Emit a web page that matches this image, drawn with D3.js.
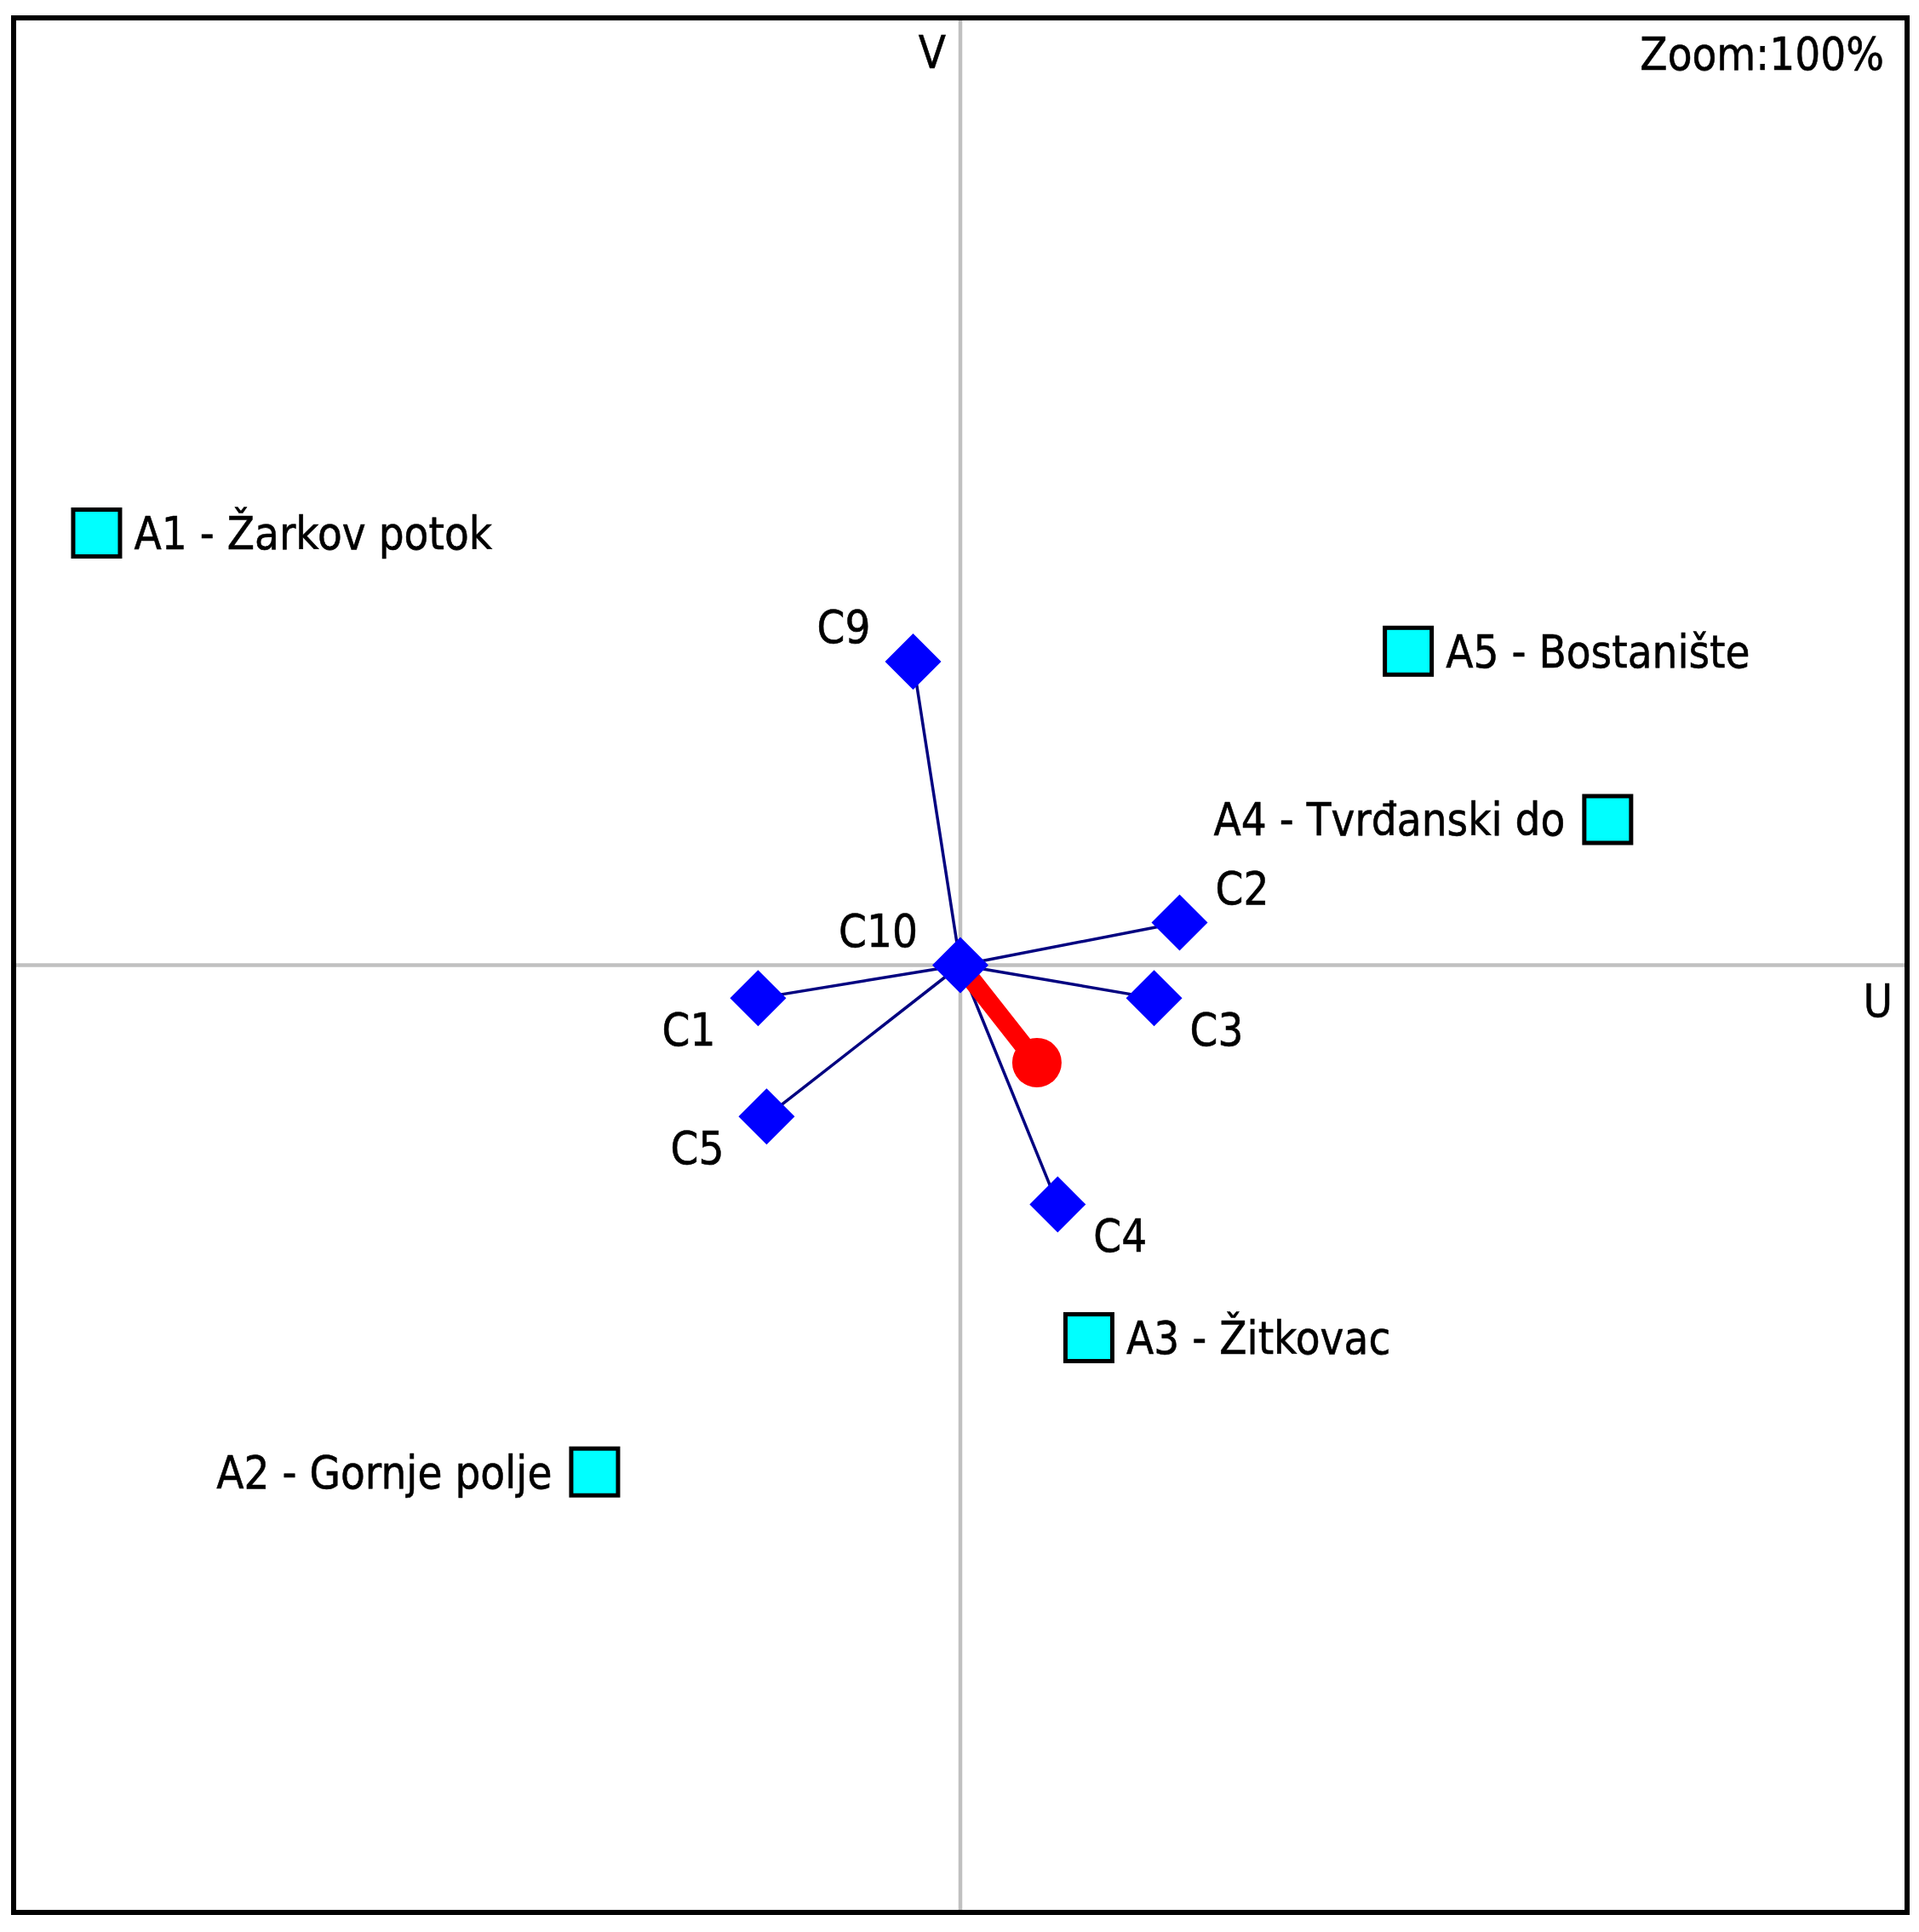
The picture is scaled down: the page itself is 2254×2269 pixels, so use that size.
<!DOCTYPE html>
<html>
<head>
<meta charset="utf-8">
<script src="https://cdn.jsdelivr.net/npm/d3@7"></script>
<style>
  html, body { margin: 0; padding: 0; background: #fff; }
  svg { display: block; }
</style>
</head>
<body>
<svg id="chart" width="2254" height="2269"></svg>
<script>
// ---- data (biplot coordinates, U horizontal / V vertical) ----
const siteNames = ["A1 - Žarkov potok", "A2 - Gornje polje", "A3 - Žitkovac", "A4 - Tvrđanski do", "A5 - Bostanište"];
const siteU = [-0.914, -0.387, 0.136, 0.685, 0.474];
const siteV = [0.457, -0.536, -0.394, 0.154, 0.332];
const siteLabelSide = ["right", "left", "right", "left", "right"];

const critNames = ["C1", "C2", "C3", "C4", "C5", "C9", "C10"];
const critU = [-0.214, 0.232, 0.205, 0.103, -0.205, -0.050, 0.000];
const critV = [-0.035, 0.045, -0.035, -0.253, -0.160, 0.321, 0.000];
const critLabelPos = ["sw", "ne", "se", "se", "sw", "nw", "nw"];

const decisionAxis = { u: 0.081, v: -0.103 };   // red "pi" decision axis end
const axisNames = { u: "U", v: "V" };
const zoomText = "Zoom:100%";

// ---- layout ----
const svg = d3.select("#chart");
const frame = { x0: 18, x1: 2238, y0: 23, y1: 2244 };
const x = d3.scaleLinear().domain([-1, 1]).range([frame.x0, frame.x1]);
const y = d3.scaleLinear().domain([-1, 1]).range([frame.y1, frame.y0]);

const FONT = "'DejaVu Sans', Verdana, sans-serif";
const FS = 53, SX = 0.89;

function label(g, px, py, text, anchor) {
  return g.append("text")
    .attr("transform", `translate(${px},${py}) scale(${SX},1)`)
    .attr("text-anchor", anchor)
    .attr("font-family", FONT)
    .attr("font-size", FS)
    .attr("fill", "#000")
    .attr("stroke", "#000").attr("stroke-width", 0.6)
    .text(text);
}

// axes through origin
svg.append("line")
  .attr("x1", frame.x0).attr("x2", frame.x1)
  .attr("y1", y(0)).attr("y2", y(0))
  .attr("stroke", "#c0c0c0").attr("stroke-width", 4.5);
svg.append("line")
  .attr("x1", x(0)).attr("x2", x(0))
  .attr("y1", frame.y0).attr("y2", frame.y1)
  .attr("stroke", "#c0c0c0").attr("stroke-width", 4.5);

// criterion lines from origin
const crit = critNames.map((n, i) => ({ name: n, u: critU[i], v: critV[i], pos: critLabelPos[i] }));
svg.append("g").selectAll("line").data(crit).join("line")
  .attr("x1", x(0)).attr("y1", y(0))
  .attr("x2", d => x(d.u)).attr("y2", d => y(d.v))
  .attr("stroke", "#000080").attr("stroke-width", 3.5);

// red decision axis
svg.append("line")
  .attr("x1", x(0)).attr("y1", y(0))
  .attr("x2", x(decisionAxis.u)).attr("y2", y(decisionAxis.v))
  .attr("stroke", "#ff0000").attr("stroke-width", 22);
svg.append("circle")
  .attr("cx", x(decisionAxis.u)).attr("cy", y(decisionAxis.v))
  .attr("r", 29).attr("fill", "#ff0000");

// criterion diamonds
const DH = 33;
svg.append("g").selectAll("path").data(crit).join("path")
  .attr("d", d => {
    const cx = x(d.u), cy = y(d.v);
    return `M${cx},${cy - DH}L${cx + DH},${cy}L${cx},${cy + DH}L${cx - DH},${cy}Z`;
  })
  .attr("fill", "#0000ff");

// criterion labels
const cl = svg.append("g");
crit.forEach(d => {
  const cx = x(d.u), cy = y(d.v);
  const east = d.pos[1] === "e";
  const north = d.pos[0] === "n";
  label(cl, east ? cx + 42 : cx - 50, north ? cy - 22 : cy + 56, d.name, east ? "start" : "end");
});

// sites (alternatives)
const sites = siteNames.map((n, i) => ({ name: n, u: siteU[i], v: siteV[i], side: siteLabelSide[i] }));
const SQ = 55;
svg.append("g").selectAll("rect").data(sites).join("rect")
  .attr("x", d => x(d.u) - SQ / 2).attr("y", d => y(d.v) - SQ / 2)
  .attr("width", SQ).attr("height", SQ)
  .attr("fill", "#00ffff").attr("stroke", "#000").attr("stroke-width", 5);
const sl = svg.append("g");
sites.forEach(d => {
  const cx = x(d.u), cy = y(d.v);
  if (d.side === "right") label(sl, cx + 44, cy + 19, d.name, "start");
  else label(sl, cx - 50, cy + 19, d.name, "end");
});

// axis names and zoom text
label(svg, x(0) - 17, 80, axisNames.v, "end");
label(svg, 2223, 1194, axisNames.u, "end");
label(svg, 2213, 82, zoomText, "end");

// frame
svg.append("rect")
  .attr("x", 16).attr("y", 21)
  .attr("width", 2240 - 16).attr("height", 2246 - 21)
  .attr("fill", "none").attr("stroke", "#000").attr("stroke-width", 6);
</script>
</body>
</html>
